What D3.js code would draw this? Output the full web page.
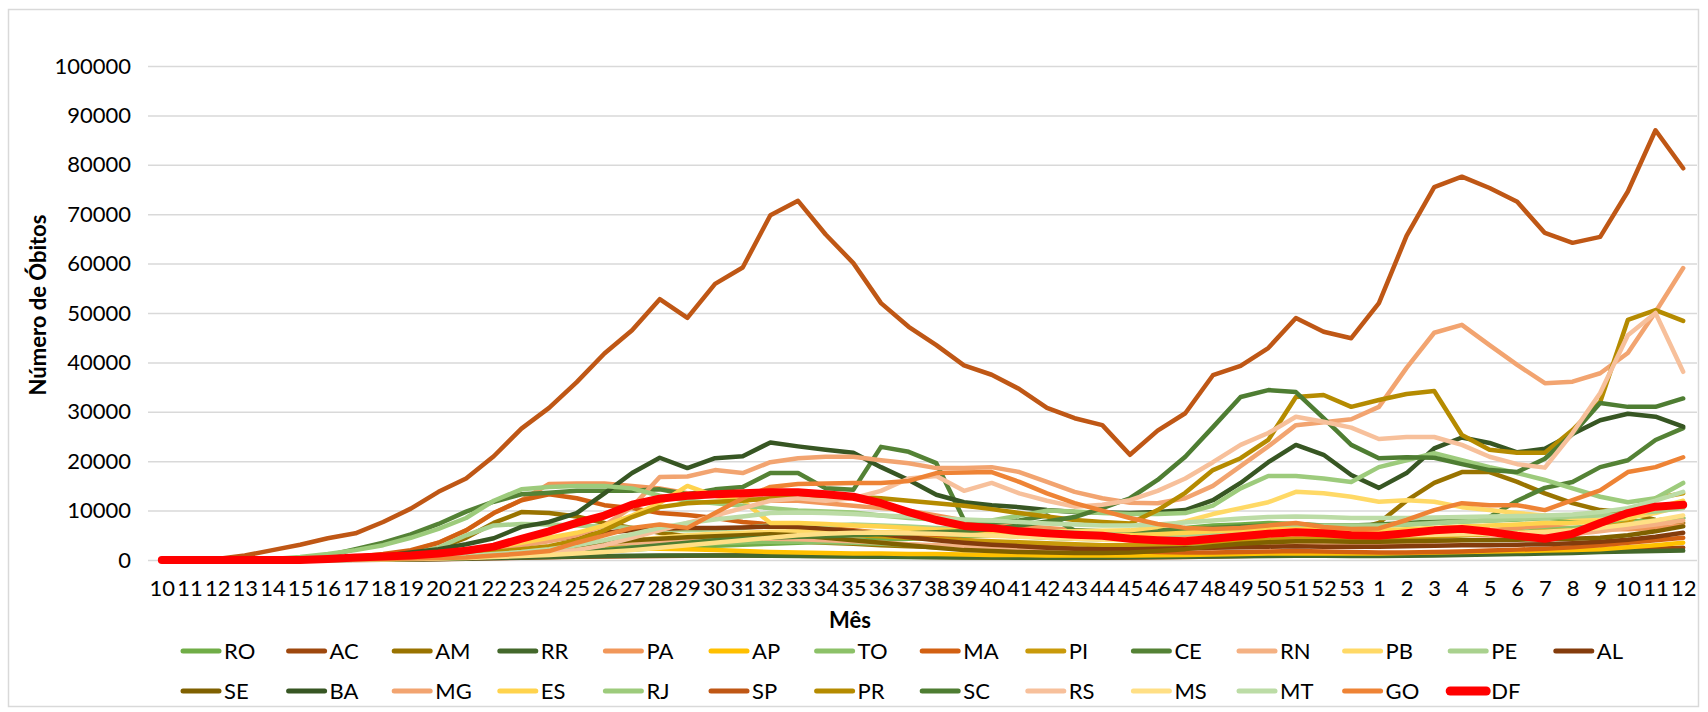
<!DOCTYPE html>
<html>
<head>
<meta charset="utf-8">
<title>Número de Óbitos por semana</title>
<script src="https://d3js.org/d3.v7.min.js"></script>
<style>
  body { margin: 0; background: #fff; }
  text { font-family: Lato, "Open Sans", sans-serif; fill: #000; }
  .grid line { stroke: #D9D9D9; stroke-width: 1.5; }
  .grid path { display: none; }
</style>
</head>
<body>
<svg width="1708" height="712"></svg>
<script>
// week labels (10..53 of the first year, then 1..12)
var weeks = ['10','11','12','13','14','15','16','17','18','19',
  '20','21','22','23','24','25','26','27','28','29',
  '30','31','32','33','34','35','36','37','38','39',
  '40','41','42','43','44','45','46','47','48','49',
  '50','51','52','53',
  '1','2','3','4','5','6','7','8','9','10','11','12'];
var yTicks = [0,10000,20000,30000,40000,50000,60000,70000,80000,90000,100000];

var states = ['RO','AC','AM','RR','PA','AP','TO','MA','PI','CE','RN','PB','PE','AL',
  'SE','BA','MG','ES','RJ','SP','PR','SC','RS','MS','MT','GO','DF'];
var colors = ['#70AD47','#9E480E','#997300','#43682B','#F1975A','#FFC000','#8CC168','#D26012','#C99A0A',
  '#548235','#F4B183','#FFD966','#A9D18E','#843C0C','#7F6000','#375623','#F2A470','#FFD34D',
  '#9DCB7C','#BF5715','#B58B00','#4E7D32','#F7C09B','#FFDF85','#BCDCA6','#EE8335','#FF0000'];

var RO = [0,0,0,0,0,0,0,50,100,150, 250,400,600,900,1200,1500,1800,2100,2400,2700,
  2900,3100,3300,3500,3700,3900,4100,4300,4500,4800, 5000,4800,4500,4300,4200,4500,5000,6500,7000,7200,
  7500,7300,7000,7000, 7000,7200,7500,7800,8000,8200,8500,8200,7800,7800,8000,8500];
var AC = [0,0,0,0,0,0,0,0,50,100, 150,250,350,450,550,650,700,750,800,850,
  900,900,900,850,800,750,700,650,600,550, 500,500,450,450,450,500,550,600,700,800,
  900,950,950,950, 1000,1100,1200,1300,1400,1500,1600,1700,1900,2100,2300,2500];
var AM = [0,0,0,0,50,150,300,600,1000,1600, 2400,4500,7500,9700,9500,8800,7500,6500,5500,4800,
  4500,4200,4000,3800,3500,3300,3000,2800,2600,2500, 2400,2300,2200,2200,2300,2500,2800,3300,4000,4800,
  5200,5500,5800,6000, 7500,12000,15600,17800,17800,15800,13500,11500,10100,9600,8100,7500];
var RR = [0,0,0,0,0,0,0,50,100,150, 200,300,400,500,600,700,800,850,900,900,
  900,900,850,800,750,700,650,600,550,500, 500,450,450,450,500,550,600,650,700,750,
  800,850,850,800, 800,850,900,1000,1100,1200,1300,1400,1600,1700,1800,1900];
var PA = [0,0,0,0,50,100,200,400,900,1800, 3500,6000,9500,12100,15400,15500,15500,15000,14500,13500,
  13000,12500,12000,12000,11500,11000,10500,10000,9000,8000, 7500,7000,6500,6000,5500,5000,4800,4800,5000,5200,
  5500,5700,5500,5200, 5000,5000,5200,5500,6000,6500,6800,6500,6200,6200,6500,7000];
var AP = [0,0,0,0,0,0,50,100,200,400, 600,900,1200,1500,1800,2000,2200,2300,2300,2200,
  2000,1800,1600,1500,1400,1300,1300,1200,1200,1100, 1000,1000,900,900,900,900,950,1000,1100,1200,
  1300,1300,1300,1300, 1300,1400,1500,1600,1700,1800,1900,2000,2200,2600,3000,3500];
var TO = [0,0,0,0,0,0,50,100,200,300, 500,700,1000,1300,1600,2000,2300,2600,2900,3200,
  3400,3600,3700,3700,3600,3500,3300,3100,2900,2700, 2500,2400,2300,2200,2200,2300,2500,2800,3200,3600,
  4000,4300,4300,4200, 4200,4400,4700,5000,5300,5600,6000,6500,7000,7500,8000,8500];
var MA = [0,0,0,0,50,150,300,600,1200,2000, 3500,6000,9500,12100,13300,12500,11100,10500,9500,9100,
  8500,7700,7200,7000,6500,6000,5500,5000,4500,4000, 3500,3000,2600,2300,2000,1800,1600,1500,1500,1600,
  1700,1800,1700,1600, 1500,1500,1600,1700,1900,2100,2300,2600,3000,3500,4000,4500];
var PI = [0,0,0,0,0,0,50,100,200,300, 500,700,1000,1500,2000,2500,3000,3500,4000,4500,
  5000,5200,5500,5500,5300,5000,4800,4500,4200,4000, 3800,3600,3400,3200,3000,3000,3100,3300,3600,4000,
  4300,4500,4400,4300, 4300,4500,4700,5000,5200,5500,5800,6000,6500,7500,12500,13500];
var CE = [0,0,0,0,100,400,900,2200,3500,5200, 7300,9800,11800,13300,13600,14000,14000,14000,14300,13300,
  14300,14800,17600,17600,14500,14200,22900,21900,19600,8100, 7500,8000,9000,6000,5800,5800,6000,6200,6500,6800,
  7000,7200,7000,7000, 7200,7500,7800,8000,8700,12000,14600,15800,18800,20200,24300,26700];
var RN = [0,0,0,0,0,50,100,200,300,500, 800,1200,1600,2000,2400,2800,3200,3500,3800,4000,
  4200,4300,4300,4200,4000,3800,3500,3200,3000,2800, 2600,2400,2200,2100,2000,2000,2100,2300,2600,3000,
  3300,3500,3400,3300, 3300,3500,3800,4000,4200,4500,4800,5200,5800,6500,7200,8000];
var PB = [0,0,0,0,0,0,50,100,200,400, 700,1000,1500,2000,2500,3000,3500,4000,4500,5000,
  5300,5500,5700,5800,5800,5700,5600,5600,5600,5600, 5700,5700,5800,5800,5900,6000,6700,7800,9300,10500,
  11700,13800,13500,12800, 11800,12100,11800,10700,10100,9500,9000,8500,8100,8500,9500,11000];
var PE = [0,0,0,0,0,100,200,400,700,1200, 2500,5000,7000,7300,7200,7000,6800,6500,6200,6000,
  6200,6500,7000,7000,7000,7200,7000,6800,6500,6300, 6200,6000,5800,5500,5200,5000,5000,5200,5500,6000,
  6500,6800,7000,7000, 7000,7200,7500,7800,8000,8300,8500,8800,9000,9300,9800,10500];
var AL = [0,0,0,0,0,50,100,200,400,700, 1200,1800,2500,3200,4000,4800,5500,6000,6300,6500,
  6500,6600,6800,6700,6300,5800,5200,4600,4000,3500, 3100,2800,2500,2300,2200,2200,2300,2400,2500,2600,
  2700,2800,2700,2700, 2700,2800,2900,3000,3000,3100,3200,3400,3700,4100,4700,5500];
var SE = [0,0,0,0,0,0,50,100,200,400, 700,1000,1500,2000,2500,3000,3500,4000,4300,4600,
  4800,5000,5200,5000,4500,4000,3500,3000,2500,2000, 1800,1600,1500,1400,1400,1500,1800,2200,2800,3300,
  3600,3800,3800,3700, 3700,3800,3900,4000,4000,4100,4200,4300,4500,5000,5800,6800];
var BA = [0,0,0,0,0,100,200,400,800,1500, 2200,3200,4400,6700,7700,9500,13500,17600,20700,18600,
  20600,21000,23800,23000,22300,21700,18800,16200,13200,11700, 11100,10700,10100,9700,9600,9500,9700,10100,12100,15600,
  19800,23300,21300,17200, 14600,17600,22600,24800,23700,21800,22500,25500,28300,29600,29000,27000];
var MG = [0,0,0,0,50,100,200,300,500,800, 1200,1700,2300,3000,3800,5000,7000,10700,16800,16900,
  18200,17600,19800,20600,20900,20900,20200,19600,18600,18600, 18800,17800,15800,13800,12500,11600,11500,12500,15000,19000,
  23000,27300,27900,28500, 31000,38900,46000,47600,43500,39500,35800,36100,37800,41900,50200,59100];
var ES = [0,0,0,0,0,100,200,300,500,800, 1200,1800,2500,3500,4500,5500,7000,9000,11500,15000,
  13000,12000,7500,7500,7300,7000,6800,6500,6200,6000, 5800,5600,5400,5200,5000,5000,5200,5500,5800,6000,
  6200,6300,6200,6000, 6000,6200,6500,6800,7000,7200,7500,7500,7800,8500,10500,12000];
var RJ = [0,0,0,0,200,600,1200,2000,3000,4500, 6300,8500,12000,14300,14800,15000,15000,14500,13000,12000,
  11500,11000,10500,10000,9800,9600,9000,8500,8200,8000, 8000,9000,10000,9800,9500,9300,9300,9500,11000,14500,
  17000,17000,16500,15800, 18800,20200,21600,20200,18800,17600,16200,14500,12800,11700,12500,15600];
var SP = [0,0,200,900,2000,3100,4400,5400,7700,10400, 13800,16500,21000,26600,30800,36000,41800,46500,52800,49000,
  55900,59200,69800,72700,65900,60100,52000,47200,43500,39400, 37500,34600,30800,28700,27300,21300,26200,29700,37400,39300,
  42900,49000,46200,44900, 52000,65600,75500,77600,75300,72500,66200,64200,65400,74600,87000,79300];
var PR = [0,0,0,0,0,50,100,150,300,500, 800,1200,1600,2200,2800,4000,6000,8700,10700,11500,
  11800,12000,12500,12500,13000,12800,12500,12000,11500,11000, 10300,9500,8800,8100,7700,7400,10100,13600,18200,20600,
  24300,33000,33400,31000, 32400,33600,34200,25300,22300,21700,21700,26300,32000,48600,50600,48400];
var SC = [0,0,0,0,0,0,50,100,150,250, 400,600,800,1000,1300,1600,2000,2500,3000,3500,
  4000,4300,4500,4700,4800,5000,5200,5400,5600,5800, 6200,7000,7800,8700,10500,12500,16200,20900,26900,33000,
  34400,34000,28700,23300, 20600,20800,20700,19400,18200,17800,20500,25500,31800,31000,31000,32700];
var RS = [0,0,0,0,0,50,100,150,200,300, 400,500,700,1000,1500,2000,3000,4500,6000,7500,
  9000,10500,12000,12500,12000,12500,14000,16500,17000,14000, 15600,13500,12000,10800,11200,12100,14000,16500,19800,23300,
  25700,29000,28000,26800, 24500,24900,24900,23300,20900,19400,18700,25700,33800,45500,50000,38100];
var MS = [0,0,0,0,0,0,0,50,100,200, 300,400,600,800,1000,1300,1600,2000,2500,3000,
  3500,4000,4500,5000,5300,5500,5500,5400,5300,5100, 4900,4700,4500,4300,4100,4000,4000,4200,4500,4800,
  5000,5200,5200,5100, 5000,5000,5100,5200,5300,5500,5700,6000,6500,7200,8000,9000];
var MT = [0,0,0,0,0,0,50,100,200,300, 500,800,1200,1600,2200,3000,4000,5200,6500,7500,
  8200,8800,9500,9600,9500,9300,9000,8800,8500,8200, 8000,7700,7400,7200,7000,7000,7200,7600,8000,8400,
  8700,8800,8700,8500, 8500,8500,8600,8700,8800,8900,9000,9200,9700,10500,12000,13800];
var GO = [0,0,0,0,0,0,50,100,200,300, 400,500,900,1300,1800,3500,5000,6500,7200,6500,
  9500,12500,14800,15400,15500,15600,15600,16000,17600,17700, 17800,15800,13500,11500,10000,8500,7300,6500,6300,6500,
  7000,7500,6700,6300, 6400,8100,10100,11500,11100,11100,10100,12100,14100,17800,18800,20800];
var DF = [0,0,0,0,0,0,200,500,700,900, 1300,1900,2700,4300,5800,7500,9000,11200,12400,13000,
  13300,13500,13700,13700,13300,12800,11500,9700,8100,6900, 6500,5800,5400,5100,4900,4300,4000,3800,4300,4800,
  5300,5600,5400,5000, 4900,5400,6000,6300,5700,4900,4300,5300,7500,9500,10800,11200];

var seriesValues = [RO,AC,AM,RR,PA,AP,TO,MA,PI,CE,RN,PB,PE,AL,SE,BA,MG,ES,RJ,SP,PR,SC,RS,MS,MT,GO,DF];

var svg = d3.select('svg');

// chart frame
svg.append('rect')
  .attr('x', 8.5).attr('y', 9.5)
  .attr('width', 1690).attr('height', 697)
  .attr('fill', '#fff')
  .attr('stroke', '#D9D9D9')
  .attr('stroke-width', 1.5);

var plotLeft = 148, plotRight = 1697, plotTop = 66, plotBottom = 560;

var x = d3.scalePoint()
  .domain(d3.range(weeks.length))
  .range([plotLeft, plotRight])
  .padding(0.5);

var y = d3.scaleLinear()
  .domain([0, 100000])
  .range([plotBottom, plotTop]);

// gridlines + y labels
var yAxis = svg.append('g')
  .attr('class', 'grid')
  .attr('transform', 'translate(' + plotLeft + ',0)')
  .call(d3.axisLeft(y).tickValues(yTicks).tickFormat(d3.format('d'))
    .tickSize(-(plotRight - plotLeft)).tickPadding(17));
yAxis.selectAll('text')
  .style('font-size', '22px');

// x labels
var xAxis = svg.append('g')
  .attr('transform', 'translate(0,' + plotBottom + ')')
  .call(d3.axisBottom(x).tickFormat(function (i) { return weeks[i]; }).tickSize(0).tickPadding(20));
xAxis.select('.domain').remove();
xAxis.selectAll('text')
  .style('font-size', '22px');

// axis titles
svg.append('text')
  .attr('x', 850).attr('y', 628)
  .attr('text-anchor', 'middle')
  .style('font-size', '22px')
  .style('font-weight', 'bold')
  .text('Mês');

svg.append('text')
  .attr('transform', 'translate(46,305) rotate(-90)')
  .attr('text-anchor', 'middle')
  .style('font-size', '22px')
  .style('font-weight', 'bold')
  .text('Número de Óbitos');

// lines
var line = d3.line()
  .x(function (d, i) { return x(i); })
  .y(function (d) { return y(d); });

svg.append('g')
  .selectAll('path')
  .data(seriesValues).enter()
  .append('path')
  .attr('d', line)
  .attr('fill', 'none')
  .attr('stroke', function (d, i) { return colors[i]; })
  .attr('stroke-width', function (d, i) { return states[i] === 'DF' ? 8 : 4.5; })
  .attr('stroke-linejoin', 'round')
  .attr('stroke-linecap', 'round');

// legend: 14 items on the first row, the rest on the second
var legend = svg.append('g')
  .selectAll('g')
  .data(states).enter()
  .append('g')
  .attr('transform', function (d, i) {
    var row = i < 14 ? 0 : 1;
    var col = i < 14 ? i : i - 14;
    return 'translate(' + (183 + col * 105.6) + ',' + (651 + row * 40) + ')';
  });

legend.append('line')
  .attr('x1', 0).attr('x2', 36)
  .attr('y1', 0).attr('y2', 0)
  .attr('stroke', function (d, i) { return colors[i]; })
  .attr('stroke-width', function (d) { return d === 'DF' ? 9 : 5; })
  .attr('stroke-linecap', 'round');

legend.append('text')
  .attr('x', 41).attr('y', 8)
  .style('font-size', '22px')
  .text(function (d) { return d; });
</script>
</body>
</html>
